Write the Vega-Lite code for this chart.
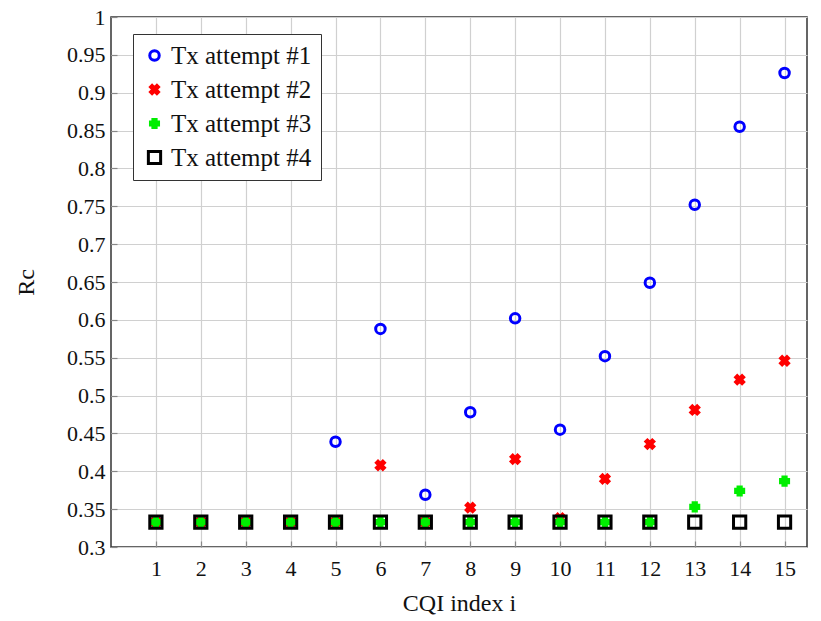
{
  "$schema": "https://vega.github.io/schema/vega-lite/v6.json",
  "width": 696,
  "height": 530,
  "autosize": "none",
  "padding": {"left": 111, "top": 17, "right": 14, "bottom": 74},
  "background": "white",
  "config": {
    "view": {"stroke": "#333333", "strokeWidth": 1.5},
    "font": "Liberation Serif",
    "axis": {"gridColor": "#d0d0d0", "gridWidth": 1.2, "gridOpacity": 1, "domain": false, "tickColor": "#888888", "tickSize": -6, "tickWidth": 1.2, "labelFontSize": 22, "labelColor": "#111111", "titleFontSize": 24, "titleFontWeight": "normal", "titleColor": "#111111", "labelFont": "Liberation Serif", "titleFont": "Liberation Serif"}
  },
  "data": {
    "values": [
      {"i": 1, "r": 0.333, "s": "Tx attempt #1"},
      {"i": 2, "r": 0.333, "s": "Tx attempt #1"},
      {"i": 3, "r": 0.333, "s": "Tx attempt #1"},
      {"i": 4, "r": 0.333, "s": "Tx attempt #1"},
      {"i": 5, "r": 0.439, "s": "Tx attempt #1"},
      {"i": 6, "r": 0.588, "s": "Tx attempt #1"},
      {"i": 7, "r": 0.369, "s": "Tx attempt #1"},
      {"i": 8, "r": 0.478, "s": "Tx attempt #1"},
      {"i": 9, "r": 0.602, "s": "Tx attempt #1"},
      {"i": 10, "r": 0.455, "s": "Tx attempt #1"},
      {"i": 11, "r": 0.552, "s": "Tx attempt #1"},
      {"i": 12, "r": 0.649, "s": "Tx attempt #1"},
      {"i": 13, "r": 0.752, "s": "Tx attempt #1"},
      {"i": 14, "r": 0.855, "s": "Tx attempt #1"},
      {"i": 15, "r": 0.926, "s": "Tx attempt #1"},
      {"i": 1, "r": 0.333, "s": "Tx attempt #2"},
      {"i": 2, "r": 0.333, "s": "Tx attempt #2"},
      {"i": 3, "r": 0.333, "s": "Tx attempt #2"},
      {"i": 4, "r": 0.333, "s": "Tx attempt #2"},
      {"i": 5, "r": 0.333, "s": "Tx attempt #2"},
      {"i": 6, "r": 0.408, "s": "Tx attempt #2"},
      {"i": 7, "r": 0.333, "s": "Tx attempt #2"},
      {"i": 8, "r": 0.352, "s": "Tx attempt #2"},
      {"i": 9, "r": 0.416, "s": "Tx attempt #2"},
      {"i": 10, "r": 0.338, "s": "Tx attempt #2"},
      {"i": 11, "r": 0.390, "s": "Tx attempt #2"},
      {"i": 12, "r": 0.436, "s": "Tx attempt #2"},
      {"i": 13, "r": 0.481, "s": "Tx attempt #2"},
      {"i": 14, "r": 0.521, "s": "Tx attempt #2"},
      {"i": 15, "r": 0.546, "s": "Tx attempt #2"},
      {"i": 1, "r": 0.333, "s": "Tx attempt #3"},
      {"i": 2, "r": 0.333, "s": "Tx attempt #3"},
      {"i": 3, "r": 0.333, "s": "Tx attempt #3"},
      {"i": 4, "r": 0.333, "s": "Tx attempt #3"},
      {"i": 5, "r": 0.333, "s": "Tx attempt #3"},
      {"i": 6, "r": 0.333, "s": "Tx attempt #3"},
      {"i": 7, "r": 0.333, "s": "Tx attempt #3"},
      {"i": 8, "r": 0.333, "s": "Tx attempt #3"},
      {"i": 9, "r": 0.333, "s": "Tx attempt #3"},
      {"i": 10, "r": 0.333, "s": "Tx attempt #3"},
      {"i": 11, "r": 0.333, "s": "Tx attempt #3"},
      {"i": 12, "r": 0.333, "s": "Tx attempt #3"},
      {"i": 13, "r": 0.353, "s": "Tx attempt #3"},
      {"i": 14, "r": 0.374, "s": "Tx attempt #3"},
      {"i": 15, "r": 0.387, "s": "Tx attempt #3"},
      {"i": 1, "r": 0.333, "s": "Tx attempt #4"},
      {"i": 2, "r": 0.333, "s": "Tx attempt #4"},
      {"i": 3, "r": 0.333, "s": "Tx attempt #4"},
      {"i": 4, "r": 0.333, "s": "Tx attempt #4"},
      {"i": 5, "r": 0.333, "s": "Tx attempt #4"},
      {"i": 6, "r": 0.333, "s": "Tx attempt #4"},
      {"i": 7, "r": 0.333, "s": "Tx attempt #4"},
      {"i": 8, "r": 0.333, "s": "Tx attempt #4"},
      {"i": 9, "r": 0.333, "s": "Tx attempt #4"},
      {"i": 10, "r": 0.333, "s": "Tx attempt #4"},
      {"i": 11, "r": 0.333, "s": "Tx attempt #4"},
      {"i": 12, "r": 0.333, "s": "Tx attempt #4"},
      {"i": 13, "r": 0.333, "s": "Tx attempt #4"},
      {"i": 14, "r": 0.333, "s": "Tx attempt #4"},
      {"i": 15, "r": 0.333, "s": "Tx attempt #4"}
    ]
  },
  "mark": {"type": "point", "opacity": 1, "strokeWidth": 3},
  "encoding": {
    "x": {
      "field": "i", "type": "quantitative",
      "scale": {"domain": [0, 15.5], "nice": false, "zero": false},
      "axis": {"values": [1,2,3,4,5,6,7,8,9,10,11,12,13,14,15], "format": "d", "title": "CQI index i", "labelPadding": 17, "titlePadding": 12}
    },
    "y": {
      "field": "r", "type": "quantitative",
      "scale": {"domain": [0.3, 1], "nice": false, "zero": false},
      "axis": {"values": [0.3,0.35,0.4,0.45,0.5,0.55,0.6,0.65,0.7,0.75,0.8,0.85,0.9,0.95,1], "format": ".2~f", "title": "Rc", "labelPadding": 12, "titlePadding": 28}
    },
    "shape": {
      "field": "s", "type": "nominal",
      "scale": {"domain": ["Tx attempt #1", "Tx attempt #2", "Tx attempt #3", "Tx attempt #4"], "range": ["circle", "M-1,-0.6L-0.6,-1L0,-0.4L0.6,-1L1,-0.6L0.4,0L1,0.6L0.6,1L0,0.4L-0.6,1L-1,0.6L-0.4,0Z", "cross", "square"]},
      "legend": {"title": null}
    },
    "stroke": {
      "field": "s", "type": "nominal",
      "scale": {"domain": ["Tx attempt #1", "Tx attempt #2", "Tx attempt #3", "Tx attempt #4"], "range": ["#0000ff", "#ff0000", "#00ee00", "#000000"]},
      "legend": {"title": null}
    },
    "fill": {
      "field": "s", "type": "nominal",
      "scale": {"domain": ["Tx attempt #1", "Tx attempt #2", "Tx attempt #3", "Tx attempt #4"], "range": ["transparent", "#ff0000", "#00ee00", "transparent"]},
      "legend": {"title": null}
    },
    "size": {
      "field": "s", "type": "nominal",
      "scale": {"type": "ordinal", "domain": ["Tx attempt #1", "Tx attempt #2", "Tx attempt #3", "Tx attempt #4"], "range": [90, 65, 65, 150]},
      "legend": {
        "title": null, "orient": "none", "legendX": 22, "legendY": 17,
        "fillColor": "white", "strokeColor": "#333333", "padding": 9, "rowPadding": 8,
        "labelFontSize": 25, "labelFont": "Liberation Serif", "labelColor": "#111111", "symbolStrokeWidth": 3, "labelOffset": 4, "symbolOpacity": 1
      }
    }
  }
}
